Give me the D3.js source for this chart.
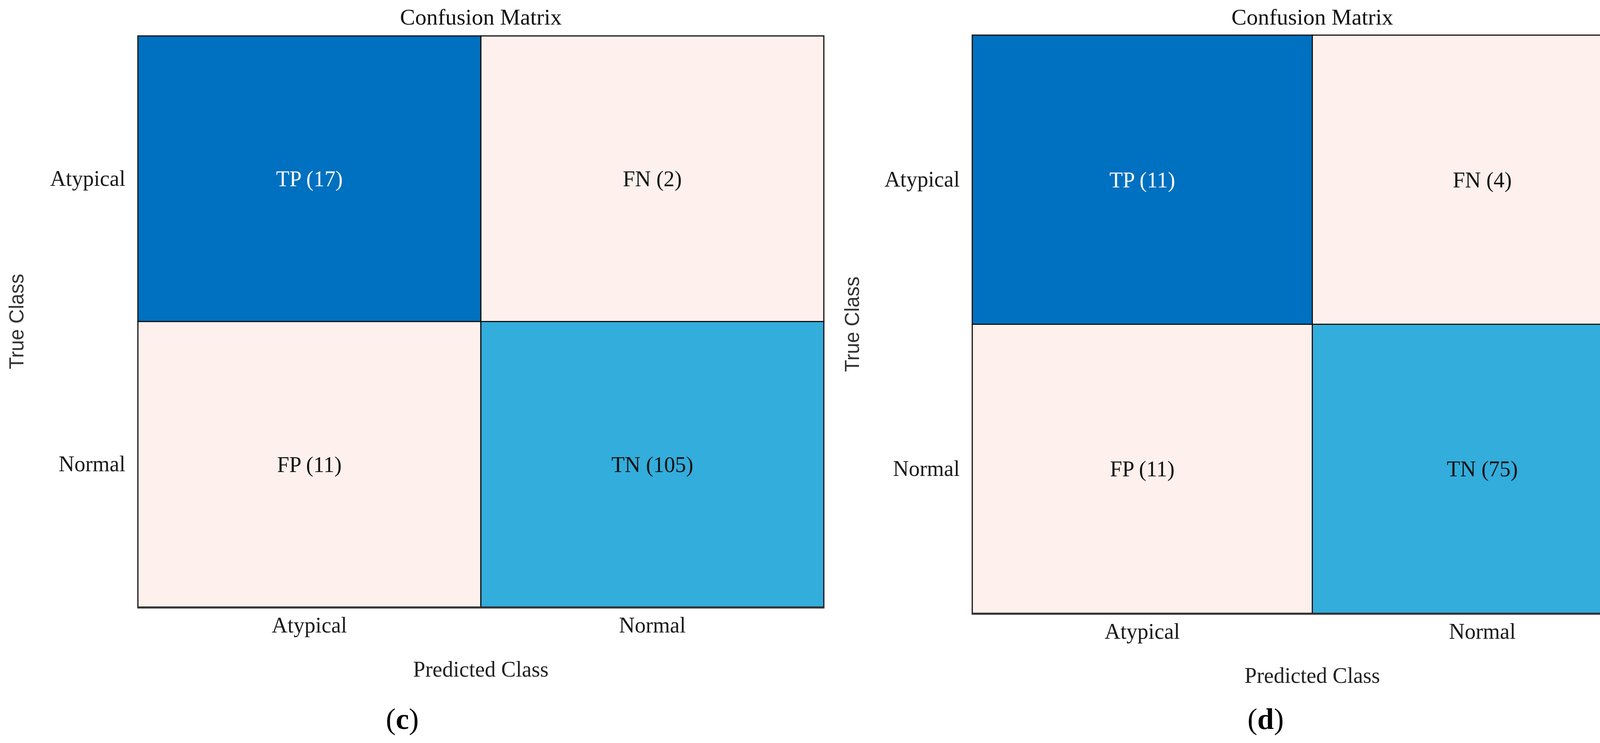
<!DOCTYPE html>
<html>
<head>
<meta charset="utf-8">
<script src="https://cdn.jsdelivr.net/npm/d3@7"></script>
<style>
  html, body { margin: 0; padding: 0; background: #ffffff; }
  svg { display: block; }
</style>
</head>
<body>
<svg id="chart" width="4242" height="1903"></svg>
<script>
// ---------------- data ----------------
const classes = ["Atypical", "Normal"];            // true (rows) and predicted (columns)
const cellNames = [["TP", "FN"], ["FP", "TN"]];
const countsC = [[17, 2], [11, 105]];
const countsD = [[11, 4], [11, 75]];
const panelTags = ["c", "d"];
const titleText = "Confusion Matrix";
const xAxisTitle = "Predicted Class";
const yAxisTitle = "True Class";

// ---------------- style / layout ----------------
const cellColor = d3.scaleOrdinal()
  .domain(["TP", "FN", "FP", "TN"])
  .range(["#0070C0", "#FEF0EC", "#FEF0EC", "#33ADDB"]);
const textColor = d3.scaleOrdinal()
  .domain(["TP", "FN", "FP", "TN"])
  .range(["#ffffff", "#111111", "#111111", "#111111"]);

const layouts = [
  { x0: 353, x1: 2109, y0: 92, y1: 1555, tagX: 1030, yTitleX: 42 },
  { x0: 2489, x1: 4230, y0: 90, y1: 1571, tagX: 3240, yTitleX: 2181 }
];
const tagY = 1842;
const serif = "'Liberation Serif', 'Times New Roman', serif";
const sans = "'Liberation Sans', Arial, sans-serif";

const svg = d3.select("#chart");

function drawPanel(counts, tag, L) {
  const g = svg.append("g");
  const x = d3.scaleBand().domain(classes).range([L.x0, L.x1]).padding(0);
  const y = d3.scaleBand().domain(classes).range([L.y0, L.y1]).padding(0);

  const cells = [];
  classes.forEach((tc, i) => classes.forEach((pc, j) => {
    cells.push({ t: tc, p: pc, name: cellNames[i][j], v: counts[i][j] });
  }));

  g.selectAll("rect.cell").data(cells).join("rect")
    .attr("class", "cell")
    .attr("x", d => x(d.p))
    .attr("y", d => y(d.t))
    .attr("width", x.bandwidth())
    .attr("height", y.bandwidth())
    .attr("fill", d => cellColor(d.name))
    .attr("stroke", "#111")
    .attr("stroke-width", 3);

  // thicker bottom edge as in reference
  g.append("line")
    .attr("x1", L.x0 - 1.5).attr("x2", L.x1 + 1.5)
    .attr("y1", L.y1 + 1).attr("y2", L.y1 + 1)
    .attr("stroke", "#333").attr("stroke-width", 5);

  g.selectAll("text.val").data(cells).join("text")
    .attr("class", "val")
    .attr("x", d => x(d.p) + x.bandwidth() / 2)
    .attr("y", d => y(d.t) + y.bandwidth() / 2)
    .attr("dy", "0.35em")
    .attr("text-anchor", "middle")
    .attr("font-family", serif)
    .attr("font-size", 56)
    .attr("fill", d => textColor(d.name))
    .text(d => `${d.name} (${d.v})`);

  // axes (labels only)
  const ax = g.append("g").attr("transform", `translate(0,${L.y1})`)
    .call(d3.axisBottom(x).tickSize(0).tickPadding(25));
  ax.select(".domain").remove();
  ax.selectAll("text").attr("font-family", serif).attr("font-size", 56).attr("fill", "#1a1a1a");

  const ay = g.append("g").attr("transform", `translate(${L.x0},0)`)
    .call(d3.axisLeft(y).tickSize(0).tickPadding(32));
  ay.select(".domain").remove();
  ay.selectAll("text").attr("font-family", serif).attr("font-size", 56).attr("fill", "#1a1a1a");

  const cx = (L.x0 + L.x1) / 2;
  const cy = (L.y0 + L.y1) / 2;

  g.append("text")
    .attr("x", cx).attr("y", 43).attr("dy", "0.35em")
    .attr("text-anchor", "middle")
    .attr("font-family", serif).attr("font-size", 58).attr("fill", "#111")
    .text(titleText);

  g.append("text")
    .attr("x", cx).attr("y", L.y1 + 158).attr("dy", "0.35em")
    .attr("text-anchor", "middle")
    .attr("font-family", serif).attr("font-size", 56).attr("fill", "#222")
    .text(xAxisTitle);

  g.append("text")
    .attr("transform", `translate(${L.yTitleX},${cy}) rotate(-90)`)
    .attr("dy", "0.35em")
    .attr("text-anchor", "middle")
    .attr("font-family", sans).attr("font-size", 51).attr("fill", "#333")
    .text(yAxisTitle);

  const t = g.append("text")
    .attr("x", L.tagX).attr("y", tagY).attr("dy", "0.33em")
    .attr("text-anchor", "middle")
    .attr("font-family", serif).attr("font-size", 76).attr("fill", "#000");
  t.append("tspan").text("(");
  t.append("tspan").attr("font-weight", "bold").text(tag);
  t.append("tspan").text(")");
}

drawPanel(countsC, panelTags[0], layouts[0]);
drawPanel(countsD, panelTags[1], layouts[1]);
</script>
</body>
</html>
